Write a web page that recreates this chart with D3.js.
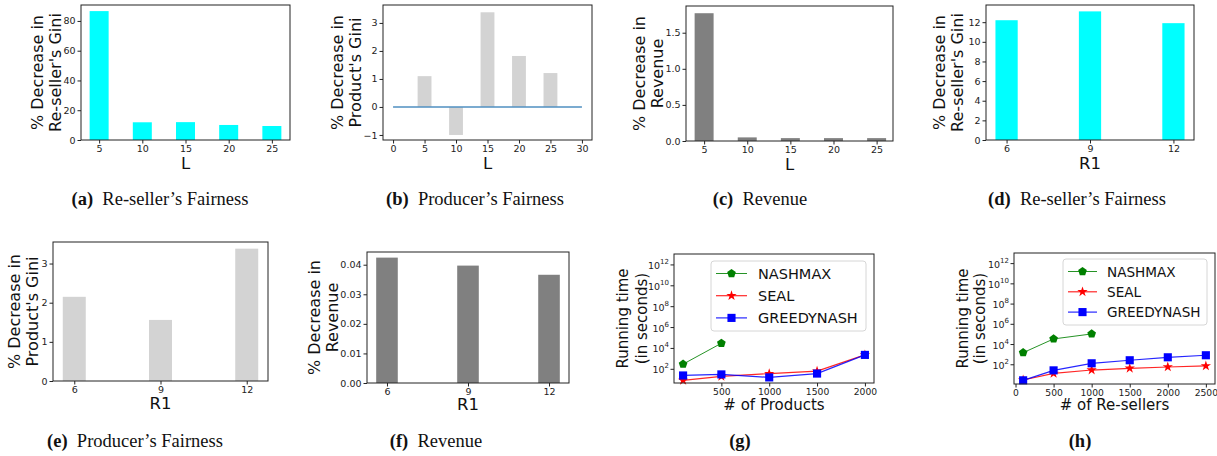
<!DOCTYPE html>
<html>
<head>
<script src="https://d3js.org/d3.v7.min.js"></script>
<style>
  body{ margin:0; background:#fff; }
  text{ font-family:"DejaVu Sans",sans-serif; fill:#111; }
  .tick text{ font-size:9.5px; fill:#222; }
  .tick line{ stroke:#222; }
  .cap{ font-family:"Liberation Serif","DejaVu Serif",serif; font-size:18.5px; }
</style>
</head>
<body>
<svg id="fig" width="1217" height="456"></svg>
<script>
// values
const lValues = [5, 10, 15, 20, 25];
const resellerGiniL = [86.6, 11.9, 12.0, 10.1, 9.4];
const productGiniL = [1.1, -1.0, 3.38, 1.82, 1.21];
const revenueL = [1.77, 0.05, 0.04, 0.04, 0.04];

const r1Values = [6, 9, 12];
const resellerGiniR1 = [12.2, 13.1, 11.9];
const productGiniR1 = [2.15, 1.56, 3.38];
const revenueR1 = [0.0424, 0.0397, 0.0366];

const productCounts = [100, 500, 1000, 1500, 2000];
const nashmaxProducts = [280, 28000];
const sealProducts = [7.8, 18.6, 35, 60, 2150];
const greedyProducts = [23, 29, 15, 35, 2150];

const resellerCounts = [100, 500, 1000, 1500, 2000, 2500];
const nashmaxResellers = [1400, 32000, 100000];
const sealResellers = [2.8, 12.6, 27, 40, 54, 68];
const greedyResellers = [2.6, 25, 125, 250, 490, 780];

const algoNames = ["NASHMAX", "SEAL", "GREEDYNASH"];
const logTicks = [1e2, 1e4, 1e6, 1e8, 1e10, 1e12];

const svg = d3.select("#fig");

// matplotlib's "p" marker
const symbolPentagon = {
  draw: function(context, size){
    const r = Math.sqrt(size / 2.378);
    for (let k = 0; k < 5; k++){
      const a = -Math.PI / 2 + k * 2 * Math.PI / 5;
      if (k === 0) context.moveTo(r * Math.cos(a), r * Math.sin(a));
      else context.lineTo(r * Math.cos(a), r * Math.sin(a));
    }
    context.closePath();
  }
};

function frame(g, b){
  g.append("rect")
    .attr("x", b.x0).attr("y", b.y0)
    .attr("width", b.x1 - b.x0).attr("height", b.y1 - b.y0)
    .attr("fill", "none").attr("stroke", "#222").attr("stroke-width", 1);
}

function labels(g, b, yLines, xLab, xLabY, yLabX, ySize, xSize, lineGap){
  const cy = (b.y0 + b.y1) / 2;
  yLines.forEach(function(t, i){
    g.append("text")
      .attr("transform", "translate(" + (yLabX + i * lineGap) + "," + cy + ") rotate(-90)")
      .attr("text-anchor", "middle")
      .style("font-size", ySize + "px")
      .text(t);
  });
  g.append("text")
    .attr("x", (b.x0 + b.x1) / 2).attr("y", xLabY)
    .attr("text-anchor", "middle")
    .style("font-size", xSize + "px")
    .text(xLab);
}

function caption(cx, cy, tag, rest){
  const t = svg.append("text").attr("class", "cap")
    .attr("x", cx).attr("y", cy).attr("text-anchor", "middle");
  t.append("tspan").style("font-weight", "bold").text(tag);
  if (rest) t.append("tspan").text("\u2002" + rest);
}

function barPanel(c){
  const b = c.box;
  const g = svg.append("g");
  const x = d3.scaleLinear().domain(c.xDomain).range([b.x0, b.x1]);
  const y = d3.scaleLinear().domain(c.yDomain).range([b.y1, b.y0]);

  g.selectAll("rect.bar")
    .data(c.xs.map((v, i) => ({x: v, y: c.ys[i]})))
    .enter().append("rect")
    .attr("class", "bar")
    .attr("x", d => x(d.x - c.barW / 2))
    .attr("width", d => x(d.x + c.barW / 2) - x(d.x - c.barW / 2))
    .attr("y", d => y(Math.max(0, d.y)))
    .attr("height", d => Math.abs(y(d.y) - y(0)))
    .attr("fill", c.color);

  if (c.zeroLine){
    g.append("line")
      .attr("x1", x(c.zeroLine[0])).attr("x2", x(c.zeroLine[1]))
      .attr("y1", y(0)).attr("y2", y(0))
      .attr("stroke", "#4f8fc0").attr("stroke-width", 1.5);
  }

  const xa = g.append("g").attr("transform", "translate(0," + b.y1 + ")")
    .call(d3.axisBottom(x).tickValues(c.xTicks).tickSize(3.5).tickPadding(2).tickFormat(d3.format("d")));
  xa.select(".domain").remove();
  const ya = g.append("g").attr("transform", "translate(" + b.x0 + ",0)")
    .call(d3.axisLeft(y).tickValues(c.yTicks).tickSize(3.5).tickPadding(2)
      .tickFormat(c.yFmt ? d3.format(c.yFmt) : (d => d < 0 ? "\u2212" + Math.abs(d) : d)));
  ya.select(".domain").remove();
  frame(g, b);
  labels(g, b, c.yLines, c.xLab, c.xLabY, c.yLabX, 16, 16.5, 17.5);
  caption(c.cap[0], c.cap[1], c.cap[2], c.cap[3]);
}

function markerPath(kind, size){
  if (kind === "pent") return d3.symbol(symbolPentagon, size * 9)();
  if (kind === "star") return d3.symbol(d3.symbolStar, size * 6)();
  return d3.symbol(d3.symbolSquare, size * 12)();
}

function linePanel(c){
  const b = c.box;
  const g = svg.append("g");
  const x = d3.scaleLinear().domain(c.xDomain).range([b.x0, b.x1]);
  const y = d3.scaleLog().domain(c.yDomain).range([b.y1, b.y0]);

  const series = [
    {name: algoNames[0], xs: c.xs.slice(0, c.nash.length), ys: c.nash, color: "#008000", kind: "pent", lw: 1},
    {name: algoNames[1], xs: c.xs, ys: c.seal, color: "#ff0000", kind: "star", lw: 1.2},
    {name: algoNames[2], xs: c.xs, ys: c.greedy, color: "#0000ff", kind: "square", lw: 1.2}
  ];

  const line = d3.line().x(d => x(d[0])).y(d => y(d[1]));
  series.forEach(function(s){
    const pts = s.xs.map((v, i) => [v, s.ys[i]]);
    g.append("path").datum(pts)
      .attr("d", line).attr("fill", "none")
      .attr("stroke", s.color).attr("stroke-width", s.lw).attr("stroke-opacity", 0.85);
    g.selectAll(null).data(pts).enter().append("path")
      .attr("transform", d => "translate(" + x(d[0]) + "," + y(d[1]) + ")")
      .attr("d", markerPath(s.kind, 5.5))
      .attr("fill", s.color);
  });

  const xa = g.append("g").attr("transform", "translate(0," + b.y1 + ")")
    .call(d3.axisBottom(x).tickValues(c.xTicks).tickSize(3.5).tickPadding(2).tickFormat(d3.format("d")));
  xa.select(".domain").remove();
  xa.selectAll(".tick text").style("font-size", "9.2px");

  const ya = g.append("g").attr("transform", "translate(" + b.x0 + ",0)")
    .call(d3.axisLeft(y).tickValues(logTicks).tickSize(3.5).tickFormat(""));
  ya.select(".domain").remove();
  ya.selectAll(".tick").append("text")
    .attr("x", -5).attr("y", 4)
    .attr("text-anchor", "end")
    .each(function(d){
      const t = d3.select(this);
      t.append("tspan").text("10").style("font-size", "9.5px");
      t.append("tspan").text(Math.round(Math.log10(d))).attr("dy", -5).style("font-size", "7px");
    });

  frame(g, b);
  labels(g, b, ["Running time", "(in seconds)"], c.xLab, c.xLabY, c.yLabX, 15, 15, c.lineGap);

  // legend
  const L = c.legend;
  g.append("rect")
    .attr("x", L.x).attr("y", L.y).attr("width", L.w).attr("height", L.h)
    .attr("rx", 3).attr("fill", "#fff").attr("fill-opacity", 0.85)
    .attr("stroke", "#d6d6d6");
  series.forEach(function(s, i){
    const yy = L.y + L.first + i * L.step;
    g.append("line")
      .attr("x1", L.x + 5).attr("x2", L.x + 5 + L.handle)
      .attr("y1", yy).attr("y2", yy)
      .attr("stroke", s.color).attr("stroke-width", s.lw).attr("stroke-opacity", 0.85);
    g.append("path")
      .attr("transform", "translate(" + (L.x + 5 + L.handle / 2) + "," + yy + ")")
      .attr("d", markerPath(s.kind, 5.5)).attr("fill", s.color);
    g.append("text")
      .attr("x", L.x + L.textX).attr("y", yy + 5)
      .style("font-size", L.font + "px")
      .text(s.name);
  });

  caption(c.cap[0], c.cap[1], c.cap[2], c.cap[3]);
}

// (a)
barPanel({
  box: {x0: 81, x1: 290, y0: 5, y1: 140},
  xs: lValues, ys: resellerGiniL, barW: 2.2, color: "#00ffff",
  xDomain: [2.9, 27.1], yDomain: [0, 90.7],
  xTicks: lValues, yTicks: [0, 20, 40, 60, 80],
  yLines: ["% Decrease in", "Re-seller's Gini"], yLabX: 43, xLab: "L", xLabY: 169,
  cap: [160, 205, "(a)", "Re-seller\u2019s Fairness"]
});
// (b)
barPanel({
  box: {x0: 383, x1: 592, y0: 5, y1: 140},
  xs: lValues, ys: productGiniL, barW: 2.2, color: "#d3d3d3",
  xDomain: [-1.6, 31.6], yDomain: [-1.18, 3.64],
  xTicks: [0, 5, 10, 15, 20, 25, 30], yTicks: [-1, 0, 1, 2, 3],
  zeroLine: [0, 30],
  yLines: ["% Decrease in", "Product's Gini"], yLabX: 343, xLab: "L", xLabY: 169,
  cap: [475, 205, "(b)", "Producer\u2019s Fairness"]
});
// (c)
barPanel({
  box: {x0: 686, x1: 893, y0: 6, y1: 141},
  xs: lValues, ys: revenueL, barW: 2.2, color: "#808080",
  xDomain: [2.9, 26.9], yDomain: [0, 1.87],
  xTicks: lValues, yTicks: [0, 0.5, 1.0, 1.5], yFmt: ".1f",
  yLines: ["% Decrease in", "Revenue"], yLabX: 645, xLab: "L", xLabY: 170,
  cap: [760, 205, "(c)", "Revenue"]
});
// (d)
barPanel({
  box: {x0: 986, x1: 1194, y0: 5, y1: 140},
  xs: r1Values, ys: resellerGiniR1, barW: 0.8, color: "#00ffff",
  xDomain: [5.26, 12.74], yDomain: [0, 13.75],
  xTicks: r1Values, yTicks: [0, 2, 4, 6, 8, 10, 12],
  yLines: ["% Decrease in", "Re-seller's Gini"], yLabX: 945, xLab: "R1", xLabY: 169,
  cap: [1077, 205, "(d)", "Re-seller\u2019s Fairness"]
});
// (e)
barPanel({
  box: {x0: 53, x1: 268, y0: 242, y1: 381},
  xs: r1Values, ys: productGiniR1, barW: 0.8, color: "#d3d3d3",
  xDomain: [5.26, 12.74], yDomain: [0, 3.55],
  xTicks: r1Values, yTicks: [0, 1, 2, 3],
  yLines: ["% Decrease in", "Product's Gini"], yLabX: 20, xLab: "R1", xLabY: 409,
  cap: [135, 447, "(e)", "Producer\u2019s Fairness"]
});
// (f)
barPanel({
  box: {x0: 367, x1: 569, y0: 252, y1: 383},
  xs: r1Values, ys: revenueR1, barW: 0.8, color: "#808080",
  xDomain: [5.26, 12.74], yDomain: [0, 0.0443],
  xTicks: r1Values, yTicks: [0, 0.01, 0.02, 0.03, 0.04], yFmt: ".2f",
  yLines: ["% Decrease in", "Revenue"], yLabX: 320, xLab: "R1", xLabY: 410,
  cap: [436, 447, "(f)", "Revenue"]
});
// (g)
linePanel({
  box: {x0: 674, x1: 874, y0: 254, y1: 383},
  xs: productCounts, nash: nashmaxProducts, seal: sealProducts, greedy: greedyProducts,
  xDomain: [5, 2095], yDomain: [Math.pow(10, 0.64), 1e13],
  xTicks: [500, 1000, 1500, 2000],
  xLab: "# of Products", xLabY: 410, yLabX: 628, lineGap: 19,
  legend: {x: 711, y: 261, w: 155, h: 70, first: 12.5, step: 22.2, handle: 31, textX: 47, font: 14.5},
  cap: [740, 447, "(g)", ""]
});
// (h)
linePanel({
  box: {x0: 1014, x1: 1215, y0: 253, y1: 384},
  xs: resellerCounts, nash: nashmaxResellers, seal: sealResellers, greedy: greedyResellers,
  xDomain: [-20, 2620], yDomain: [Math.pow(10, 0.05), 1e13],
  xTicks: [0, 500, 1000, 1500, 2000, 2500],
  xLab: "# of Re-sellers", xLabY: 410, yLabX: 968, lineGap: 17,
  legend: {x: 1063, y: 259, w: 144, h: 66, first: 12.5, step: 20.3, handle: 29, textX: 44, font: 13.6},
  cap: [1080, 447, "(h)", ""]
});
</script>
</body>
</html>
